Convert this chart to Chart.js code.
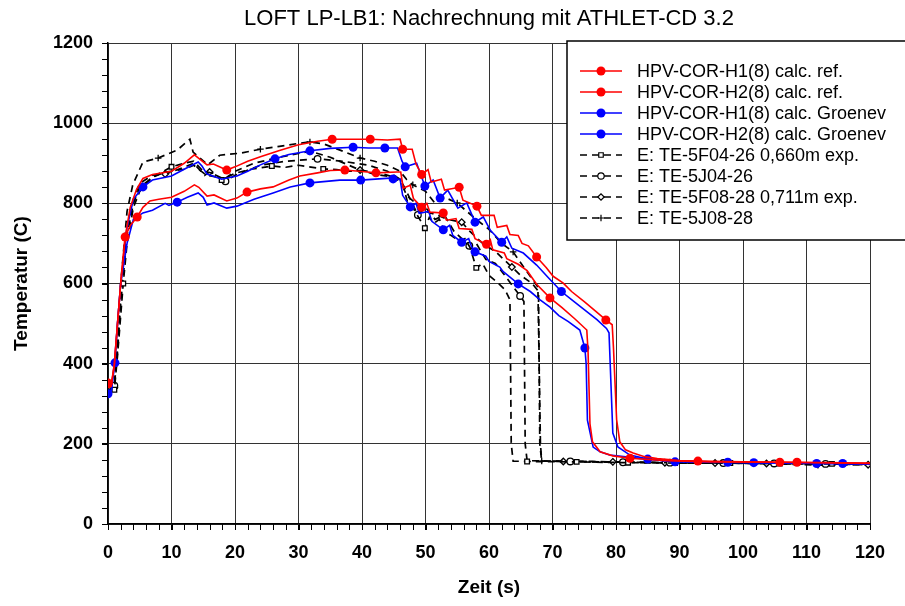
<!DOCTYPE html>
<html>
<head>
<meta charset="utf-8">
<script src="https://cdn.jsdelivr.net/npm/chart.js@4.4.1/dist/chart.umd.min.js"></script>
<style>
  html, body { margin: 0; padding: 0; background: #fff; }
</style>
</head>
<body>
<canvas id="chart" width="905" height="606"></canvas>
<script>
const FONT = '"Liberation Sans", Arial, sans-serif';

// calc. ref. (red)
const timeRefH1 = [0,0.5,1,1.5,2,2.7,3.5,4.5,5.5,7,10,12,13.6,14.3,15.6,16.6,18.7,20,22,24,27,30,33,35.3,38,41.3,44,46,46.4,47.9,48.5,49.4,50.4,50.9,52.5,53,55.3,55.9,58.1,58.8,60.8,61.3,62.8,63.3,64.6,65.2,66.2,67.5,69,70.1,71.7,73,75,76.5,78.4,79.4,79.6,80.1,80.6,81.5,82.7,84.5,86.5,90,92.9,100,108.5,120];
const tempRefH1 = [352,345,400,500,600,716,790,835,862,872,880,900,921,912,896,898,883,891,905,916,932,946,955,960,960,960,958,960,935,935,898,872,884,853,860,833,840,808,793,770,770,740,745,722,720,700,694,666,640,618,601,580,555,535,509,497,440,260,205,185,177,168,163,158,157,155,154,152];
const markRefH1 = [0,18.7,35.3,41.3,46.4,49.4,55.3,58.1,67.5,78.4,92.9,108.5];

const timeRefH2 = [0,0.5,1,1.5,2,2.7,3.5,4.6,5.5,6.6,8,10,12,13.6,14.3,15.6,16.7,18.7,20.3,21.9,24,26,28.5,30.2,33,35,37.3,40.8,42.2,45.5,46.1,46.5,47.6,48.1,49.4,50.2,50.7,52.8,53.3,54.8,55.3,57.3,57.8,59.6,60.2,60.6,62.4,62.8,64.6,66,67.5,69.6,71.5,73.5,75.4,75.6,75.9,76.3,77.5,79.5,82.2,88,95,105.8,120];
const tempRefH2 = [350,345,395,500,600,716,745,766,790,806,810,815,830,846,840,818,821,806,813,828,836,841,858,868,876,882,883,878,876,878,878,838,845,812,790,800,778,776,758,762,737,735,712,698,709,684,676,662,648,632,598,564,540,512,484,430,250,205,180,170,164,158,155,154,151];
const markRefH2 = [0,2.7,4.6,21.9,37.3,42.2,49.4,52.8,59.6,69.6,82.2,105.8];

// calc. Groenev (blue)
const timeGrnH1 = [0,0.5,1,1.5,2,3,4,5.5,7,10,12,14.2,14.8,15.6,17.9,20.3,22,24,26.3,28.5,31.8,35,38.6,41,43.6,45.6,46.3,46.8,48.6,49.9,51.2,52.3,53.5,55.1,56.5,57.8,59.1,60.2,62,62.8,63.6,65.4,67.5,69.5,71.4,73,75,77,78.5,78.9,79.5,80.3,82.2,85,90,97.6,105,111.6,120];
const tempGrnH1 = [325,330,400,500,600,740,810,841,858,868,885,903,893,873,860,868,880,896,911,922,931,937,940,938,938,938,905,891,900,843,858,813,833,788,801,753,766,733,703,716,688,676,646,612,580,560,535,510,488,477,227,192,172,162,157,154,152,151,149];
const markGrnH1 = [0,5.5,26.3,31.8,38.6,43.6,46.8,49.9,52.3,57.8,62,71.4,85,97.6,111.6];

const timeGrnH2 = [0,0.5,1.1,1.5,2,3,4,5.5,7,9,9.6,10.9,12.5,14.2,15,15.6,16.7,18.7,20.3,23,26,28.7,31.8,36.5,39.8,44.4,44.9,46,46.4,47.6,48.5,49,50.5,51,52.8,53.8,54.3,55.7,56.8,57.3,57.8,59.5,60,61.7,62.2,64.6,66.5,68,69.6,71,72.5,74.3,75.1,75.3,75.5,76.4,77.5,79,83,89.3,101.7,115.7,120];
const tempGrnH2 = [322,330,402,500,600,700,760,776,783,800,795,803,815,826,815,796,801,788,793,810,826,841,851,858,858,863,861,860,820,791,800,775,780,755,734,745,720,703,712,690,679,668,655,641,630,599,580,560,541,520,505,484,439,400,259,192,180,172,165,155,153,151,150];
const markGrnH2 = [1.1,10.9,31.8,39.8,44.9,47.6,52.8,55.7,57.8,64.6,75.1,89.3,101.7,115.7];

// experiment (black dashed)
const time5F04 = [0,1,1.5,2.4,3,4,5,7,10,12,13.5,15,16.5,17.9,20,22.5,25.8,28,30,33.9,36,38,40,42,44,45.5,46.5,47.2,48,49.9,50.6,51.3,52.2,53,54,55.5,56.2,57,58,59,60,61.5,62.5,63.3,63.5,63.8,66,73.8,81.9,89.3,98,105.8,114,120];
const temp5F04 = [330,335,420,600,700,790,830,865,891,900,905,880,875,858,875,885,893,890,895,886,884,880,882,872,868,860,845,800,790,738,765,750,760,730,720,705,712,690,639,650,620,600,585,559,200,157,156,155,153,152,152,151,150,149];
const mark5F04 = [1,2.4,10,17.9,25.8,33.9,49.9,58,66,73.8,81.9,89.3,98,105.8,114];

const time5J04 = [0,1,1.5,2,3,4,5,7,9,12,13.5,15.5,17.5,18.5,20,24,28,33,37,41,44,46,47,48.8,50,51.5,53,54.5,56.9,58,59.5,61,62.5,64.9,65.5,65.7,66,72.8,81.1,88.5,96.9,104.9,113,120];
const temp5J04 = [330,345,430,550,720,800,840,865,878,885,895,870,865,855,870,895,905,911,905,895,880,860,830,771,790,760,770,730,694,700,660,650,620,569,555,200,158,156,154,153,152,151,150,149];
const mark5J04 = [1,18.5,33,48.8,56.9,64.9,72.8,81.1,88.5,96.9,104.9,113];

const time5F08 = [0,1,1.5,2,3,4,5,7,9,12,13.5,15.2,16,18.3,20,23,27,31.8,35,39.7,43,46,47,48.5,50,52,53.5,55.7,57,59,61,63.6,65,66.8,67.8,68,68.3,71.7,79.5,87.7,95.6,103.7,111.8,119.7,120];
const temp5F08 = [335,340,450,580,740,810,850,870,873,890,900,870,878,860,880,900,915,930,915,883,875,860,820,800,780,770,760,753,730,700,680,641,620,600,580,200,157,156,155,153,152,151,150,148,148];
const mark5F08 = [1,9,16,31.8,39.7,55.7,63.6,71.7,79.5,87.7,95.6,103.7,111.8,119.7];

const time5J08 = [0,1,1.5,2,3,3.9,5.5,7.9,10.9,12.9,13.4,15.7,17.6,20.8,24,27,30.2,31.8,34,37,39.7,42,44,46,47,48,50,51.5,53,55,56.5,58,60,62,63.8,65.5,67.7,68.1,68.3,76,79.5,87.7,95,103,111.8,120];
const temp5J08 = [330,340,450,600,780,846,903,913,933,960,928,896,920,925,935,942,950,953,948,930,913,905,895,880,860,846,830,800,815,801,780,760,735,700,679,640,591,200,157,156,155,153,152,151,147,148];
const mark5J08 = [1,7.9,24,31.8,39.7,48,55,63.8,68.3,79.5,87.7,111.8];

const xTicks = { min: 0, max: 120, step: 10, minor: 2 };
const yTicks = { min: 0, max: 1200, step: 200, minor: 40 };

const chartTitle = 'LOFT LP-LB1: Nachrechnung mit ATHLET-CD 3.2';

const pts = (ts, vs) => ts.map((t, i) => ({ x: t, y: vs[i] }));

function calcSeries(label, ts, vs, marks, color) {
  return {
    label,
    data: pts(ts, vs),
    borderColor: color,
    backgroundColor: color,
    borderWidth: 1.6,
    pointStyle: 'circle',
    pointRadius: (c) => marks.includes(c.raw.x) ? 4.5 : 0,
    pointBackgroundColor: color,
    pointBorderColor: color,
    pointBorderWidth: 0,
    pointHoverRadius: 0,
    tension: 0,
    sym: { dash: [], style: 'circle', color },
  };
}

function expSeries(label, ts, vs, marks, style) {
  return {
    label,
    data: pts(ts, vs),
    borderColor: '#000',
    backgroundColor: '#fff',
    borderWidth: 1.7,
    borderDash: [7, 5],
    pointStyle: style,
    pointRadius: (c) => marks.includes(c.raw.x) ? 3.3 : 0,
    pointBackgroundColor: '#fff',
    pointBorderColor: '#000',
    pointBorderWidth: 1.3,
    pointHoverRadius: 0,
    tension: 0,
    sym: { dash: [7, 5], style, color: '#000' },
  };
}

const datasets = [
  calcSeries('HPV-COR-H1(8) calc. ref.', timeRefH1, tempRefH1, markRefH1, '#ff0000'),
  calcSeries('HPV-COR-H2(8) calc. ref.', timeRefH2, tempRefH2, markRefH2, '#ff0000'),
  calcSeries('HPV-COR-H1(8) calc. Groenev', timeGrnH1, tempGrnH1, markGrnH1, '#0000ff'),
  calcSeries('HPV-COR-H2(8) calc. Groenev', timeGrnH2, tempGrnH2, markGrnH2, '#0000ff'),
  expSeries('E: TE-5F04-26 0,660m exp.', time5F04, temp5F04, mark5F04, 'rect'),
  expSeries('E: TE-5J04-26', time5J04, temp5J04, mark5J04, 'circle'),
  expSeries('E: TE-5F08-28 0,711m exp.', time5F08, temp5F08, mark5F08, 'rectRot'),
  expSeries('E: TE-5J08-28', time5J08, temp5J08, mark5J08, 'cross'),
];

// small outward ticks between the labelled ones
const minorTicks = {
  id: 'minorTicks',
  afterDraw(chart) {
    const { ctx, chartArea: a, scales: { x, y } } = chart;
    ctx.save();
    ctx.strokeStyle = '#000';
    ctx.lineWidth = 1;
    ctx.beginPath();
    for (let t = xTicks.min; t <= xTicks.max; t += xTicks.minor) {
      const px = Math.round(x.getPixelForValue(t)) + 0.5;
      ctx.moveTo(px, a.bottom);
      ctx.lineTo(px, a.bottom + 6);
    }
    for (let v = yTicks.min; v <= yTicks.max; v += yTicks.minor) {
      const py = Math.round(y.getPixelForValue(v)) + 0.5;
      ctx.moveTo(a.left - 6, py);
      ctx.lineTo(a.left, py);
    }
    ctx.stroke();
    ctx.restore();
  }
};

const titleAndLegend = {
  id: 'titleAndLegend',
  afterDraw(chart) {
    const { ctx, chartArea: a } = chart;
    ctx.save();
    // title
    ctx.fillStyle = '#000';
    ctx.font = '22px ' + FONT;
    ctx.textAlign = 'center';
    ctx.textBaseline = 'middle';
    ctx.fillText(chartTitle, (a.left + a.right) / 2, 19);

    // legend box
    const bx = 567, by = 41, bw = 345, bh = 199;
    ctx.fillStyle = '#fff';
    ctx.fillRect(bx, by, bw, bh);
    ctx.strokeStyle = '#000';
    ctx.lineWidth = 1.5;
    ctx.strokeRect(bx, by, bw, bh);

    ctx.font = '18px ' + FONT;
    ctx.textAlign = 'left';
    chart.data.datasets.forEach((ds, i) => {
      const yy = 71 + i * 21;
      const s = ds.sym;
      ctx.strokeStyle = s.color;
      ctx.lineWidth = s.dash.length ? 1.5 : 1.6;
      ctx.setLineDash(s.dash);
      ctx.beginPath();
      ctx.moveTo(580, yy);
      ctx.lineTo(622, yy);
      ctx.stroke();
      ctx.setLineDash([]);
      if (s.dash.length) {
        ctx.fillStyle = '#fff';
        ctx.strokeStyle = '#000';
        ctx.lineWidth = 1.2;
        Chart.helpers.drawPoint(ctx, { pointStyle: s.style, radius: 3.2, borderWidth: 1.2 }, 601, yy);
      } else {
        ctx.fillStyle = s.color;
        ctx.beginPath();
        ctx.arc(601, yy, 4.5, 0, Math.PI * 2);
        ctx.fill();
      }
      ctx.fillStyle = '#000';
      ctx.fillText(ds.label, 637, yy + 1);
    });
    ctx.restore();
  }
};

new Chart(document.getElementById('chart'), {
  type: 'line',
  data: { datasets },
  plugins: [minorTicks, titleAndLegend],
  options: {
    responsive: false,
    animation: false,
    layout: { padding: { left: 0, right: 35, top: 43, bottom: 0 } },
    plugins: {
      legend: { display: false },
      title: { display: false },
      tooltip: { enabled: false },
    },
    scales: {
      x: {
        type: 'linear',
        min: xTicks.min,
        max: xTicks.max,
        ticks: { stepSize: xTicks.step, color: '#000', font: { family: FONT, size: 18, weight: 'bold' }, padding: 12, maxRotation: 0, callback: (v) => String(v) },
        grid: { color: '#333', lineWidth: 1, tickLength: 6, tickColor: '#000' },
        border: { color: '#000', width: 1.5 },
        title: { display: true, text: 'Zeit (s)', color: '#000', font: { family: FONT, size: 19, weight: 'bold' }, padding: { top: 0, bottom: 7 } },
        afterFit: (s) => { s.height = 82; },
      },
      y: {
        min: yTicks.min,
        max: yTicks.max,
        ticks: { stepSize: yTicks.step, color: '#000', font: { family: FONT, size: 18, weight: 'bold' }, padding: 9, callback: (v) => String(v) },
        grid: { color: '#333', lineWidth: 1, tickLength: 6, tickColor: '#000' },
        border: { color: '#000', width: 1.5 },
        title: { display: true, text: 'Temperatur (C)', color: '#000', font: { family: FONT, size: 19, weight: 'bold' }, padding: { top: 10, bottom: 0 } },
        afterFit: (s) => { s.width = 108; },
      },
    },
  },
});
</script>
</body>
</html>
